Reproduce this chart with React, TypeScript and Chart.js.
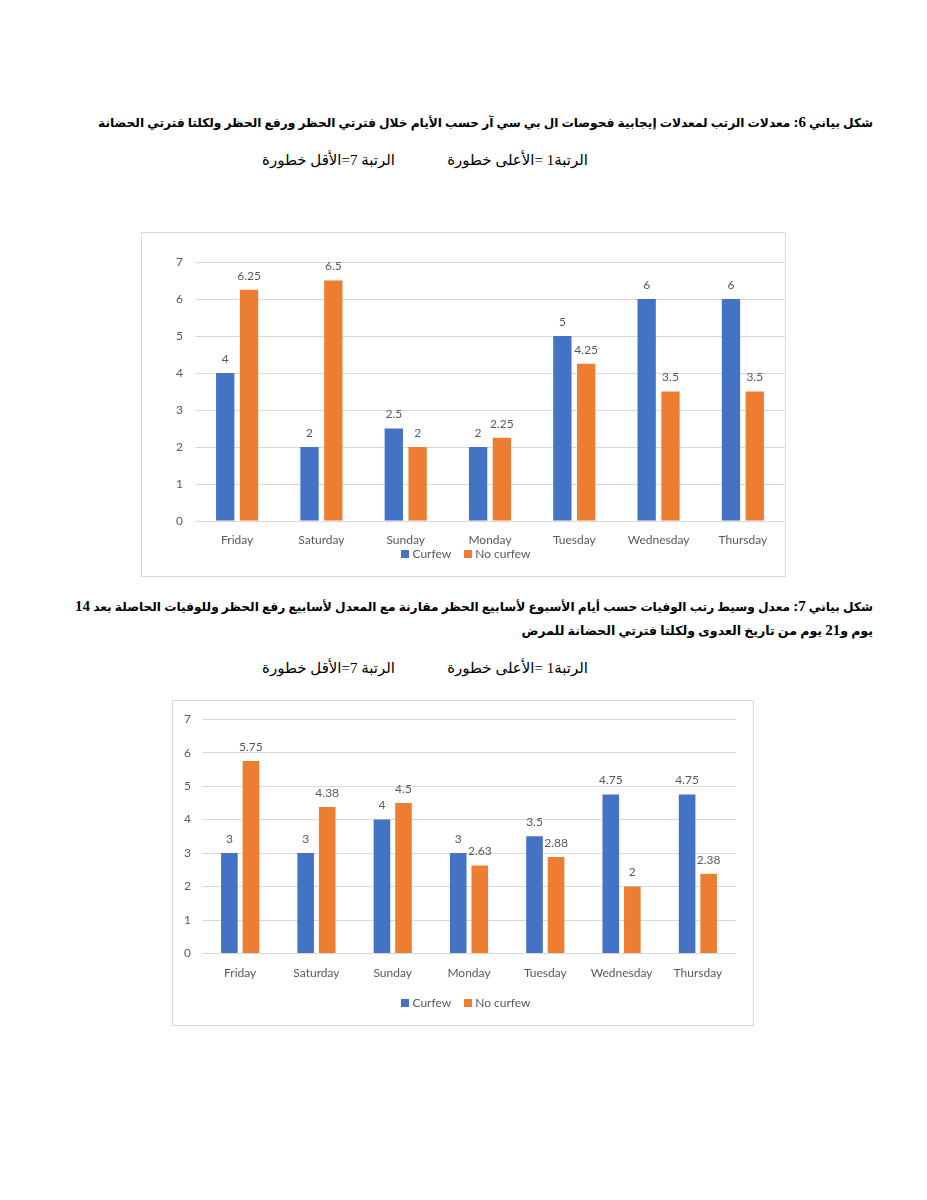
import React, { useEffect, useRef } from "react";
import { Chart, registerables } from "chart.js";

Chart.register(...registerables);

const categories = ["Friday", "Saturday", "Sunday", "Monday", "Tuesday", "Wednesday", "Thursday"];
const seriesNames = ["Curfew", "No curfew"];
const chart1Curfew = [4, 2, 2.5, 2, 5, 6, 6];
const chart1NoCurfew = [6.25, 6.5, 2, 2.25, 4.25, 3.5, 3.5];
const chart2Curfew = [3, 3, 4, 3, 3.5, 4.75, 4.75];
const chart2NoCurfew = [5.75, 4.38, 4.5, 2.63, 2.88, 2, 2.38];
const yTicks = [0, 1, 2, 3, 4, 5, 6, 7];

const title1 = "شكل بياني 6: معدلات الرتب لمعدلات إيجابية فحوصات ال بي سي آر حسب الأيام خلال فترتي الحظر ورفع الحظر ولكلتا فترتي الحضانة";
const title2a = "شكل بياني 7: معدل وسيط رتب الوفيات حسب أيام الأسبوع لأسابيع الحظر مقارنة مع المعدل لأسابيع رفع الحظر وللوفيات الحاصلة بعد 14";
const title2b = "يوم و21 يوم من تاريخ العدوى ولكلتا فترتي الحضانة للمرض";
const rankHigh = "الرتبة1 =الأعلى خطورة";
const rankLow = "الرتبة 7=الأقل خطورة";

const BLUE = "#4472C4";
const ORANGE = "#ED7D31";
const GRID = "#d9d9d9";
const TEXT = "#595959";

const valueLabels = {
  id: "valueLabels",
  afterDatasetsDraw(chart: any) {
    const ctx = chart.ctx;
    ctx.save();
    ctx.font = "12px Lato";
    ctx.fillStyle = TEXT;
    ctx.textAlign = "center";
    ctx.textBaseline = "middle";
    chart.data.datasets.forEach((ds: any, i: number) => {
      const meta = chart.getDatasetMeta(i);
      meta.data.forEach((bar: any, j: number) => {
        ctx.fillText(String(ds.data[j]), bar.x, bar.y - 14);
      });
    });
    ctx.restore();
  },
};

const customLegend = {
  id: "customLegend",
  afterDraw(chart: any, _args: any, opts: any) {
    const ctx = chart.ctx;
    ctx.save();
    ctx.font = "12px Lato";
    ctx.textBaseline = "middle";
    ctx.textAlign = "left";
    const box = 8;
    const gapText = 3;
    const gapItems = 13;
    const items = chart.data.datasets.map((ds: any) => ({ text: ds.label, color: ds.backgroundColor }));
    const widths = items.map((it: any) => box + gapText + ctx.measureText(it.text).width);
    const total = widths.reduce((a: number, b: number) => a + b, 0) + gapItems * (items.length - 1);
    let x = opts.cx - total / 2;
    items.forEach((it: any, i: number) => {
      ctx.fillStyle = it.color;
      ctx.fillRect(Math.round(x), Math.round(opts.cy - box / 2), box, box);
      ctx.fillStyle = TEXT;
      ctx.fillText(it.text, x + box + gapText, opts.cy + 0.5);
      x += widths[i] + gapItems;
    });
    ctx.restore();
  },
};

type Cfg = {
  curfew: number[];
  noCurfew: number[];
  padding: { left: number; right: number; top: number; bottom: number };
  yWidth: number;
  yPad: number;
  xHeight: number;
  xPad: number;
  legendX: number;
  legendY: number;
};

function BarChart({ cfg, width, height }: { cfg: Cfg; width: number; height: number }) {
  const ref = useRef<HTMLCanvasElement>(null);
  useEffect(() => {
    if (!ref.current) return;
    const chart = new Chart(ref.current, {
      type: "bar",
      data: {
        labels: categories,
        datasets: [
          { label: seriesNames[0], data: cfg.curfew, backgroundColor: BLUE, borderWidth: 0 },
          { label: seriesNames[1], data: cfg.noCurfew, backgroundColor: ORANGE, borderWidth: 0 },
        ],
      },
      options: {
        animation: false,
        responsive: false,
        devicePixelRatio: 1,
        layout: { padding: cfg.padding },
        datasets: { bar: { categoryPercentage: 0.565, barPercentage: 0.77 } },
        plugins: {
          legend: { display: false },
          tooltip: { enabled: false },
          customLegend: { cx: cfg.legendX, cy: cfg.legendY },
        } as any,
        scales: {
          x: {
            grid: { display: false, drawTicks: false },
            border: { display: false },
            ticks: { color: TEXT, font: { family: "Lato", size: 12 }, padding: cfg.xPad, maxRotation: 0, autoSkip: false },
            afterFit: (s: any) => {
              s.height = cfg.xHeight;
            },
          },
          y: {
            min: 0,
            max: 7,
            afterBuildTicks: (s: any) => {
              s.ticks = yTicks.map((v) => ({ value: v }));
            },
            grid: { color: GRID, lineWidth: 1, drawTicks: false },
            border: { display: false },
            ticks: { color: TEXT, font: { family: "Lato", size: 12 }, padding: cfg.yPad },
            afterFit: (s: any) => {
              s.width = cfg.yWidth;
            },
          },
        },
      },
      plugins: [valueLabels, customLegend],
    });
    return () => chart.destroy();
  }, []);
  return <canvas ref={ref} width={width} height={height} style={{ display: "block", width, height }} />;
}

const arabicFont = '"Liberation Serif", "DejaVu Sans", serif';

// Renders digits (and the colon after them) a bit larger, like the Times digits in the source.
function withDigits(text: string, digitSize: number) {
  const parts = text.split(/(\d+:?)/);
  return parts.map((p, i) =>
    /^\d/.test(p) ? (
      <span key={i} style={{ fontSize: digitSize }}>
        {p}
      </span>
    ) : (
      <React.Fragment key={i}>{p}</React.Fragment>
    )
  );
}

function RText({
  text,
  right,
  center,
  size,
  bold,
  digitSize,
}: {
  text: string;
  right: number;
  center: number;
  size: number;
  bold?: boolean;
  digitSize?: number;
}) {
  return (
    <div
      dir="rtl"
      style={{
        position: "absolute",
        right: 927 - right,
        top: center - 10,
        lineHeight: "20px",
        fontSize: size,
        fontWeight: bold ? "bold" : "normal",
        fontFamily: arabicFont,
        whiteSpace: "nowrap",
        color: "#000",
      }}
    >
      {digitSize ? withDigits(text, digitSize) : text}
    </div>
  );
}

const chart1Cfg: Cfg = {
  curfew: chart1Curfew,
  noCurfew: chart1NoCurfew,
  padding: { left: 0, right: 0, top: 29, bottom: 0 },
  yWidth: 53,
  yPad: 12,
  xHeight: 55,
  xPad: 12,
  legendX: 324,
  legendY: 321,
};

const chart2Cfg: Cfg = {
  curfew: chart2Curfew,
  noCurfew: chart2NoCurfew,
  padding: { left: 0, right: 17, top: 16, bottom: 0 },
  yWidth: 29,
  yPad: 11,
  xHeight: 71.5,
  xPad: 12,
  legendX: 293,
  legendY: 302,
};

export default function App() {
  return (
    <div style={{ position: "absolute", left: 0, top: 0, width: 927, height: 1200, background: "#fff" }}>
      <RText text={title1} right={873} center={122} size={12.2} bold digitSize={15} />
      <RText text={rankHigh} right={588} center={160} size={15} />
      <RText text={rankLow} right={395} center={160} size={15} />

      <div
        style={{
          position: "absolute",
          left: 141,
          top: 232,
          width: 643,
          height: 343,
          border: `1px solid ${GRID}`,
          background: "#fff",
        }}
      >
        <BarChart cfg={chart1Cfg} width={643} height={343} />
      </div>

      <div
        dir="rtl"
        style={{
          position: "absolute",
          left: 75,
          width: 798,
          top: 596,
          lineHeight: "20px",
          fontSize: 12.2,
          fontWeight: "bold",
          fontFamily: arabicFont,
          textAlign: "justify",
          textAlignLast: "justify" as any,
          color: "#000",
        }}
      >
        {withDigits(title2a, 15)}
      </div>
      <RText text={title2b} right={873} center={630} size={12.6} bold digitSize={15} />
      <RText text={rankHigh} right={588} center={668} size={15} />
      <RText text={rankLow} right={395} center={668} size={15} />

      <div
        style={{
          position: "absolute",
          left: 172,
          top: 700,
          width: 580,
          height: 324,
          border: `1px solid ${GRID}`,
          background: "#fff",
        }}
      >
        <BarChart cfg={chart2Cfg} width={580} height={324} />
      </div>
    </div>
  );
}
